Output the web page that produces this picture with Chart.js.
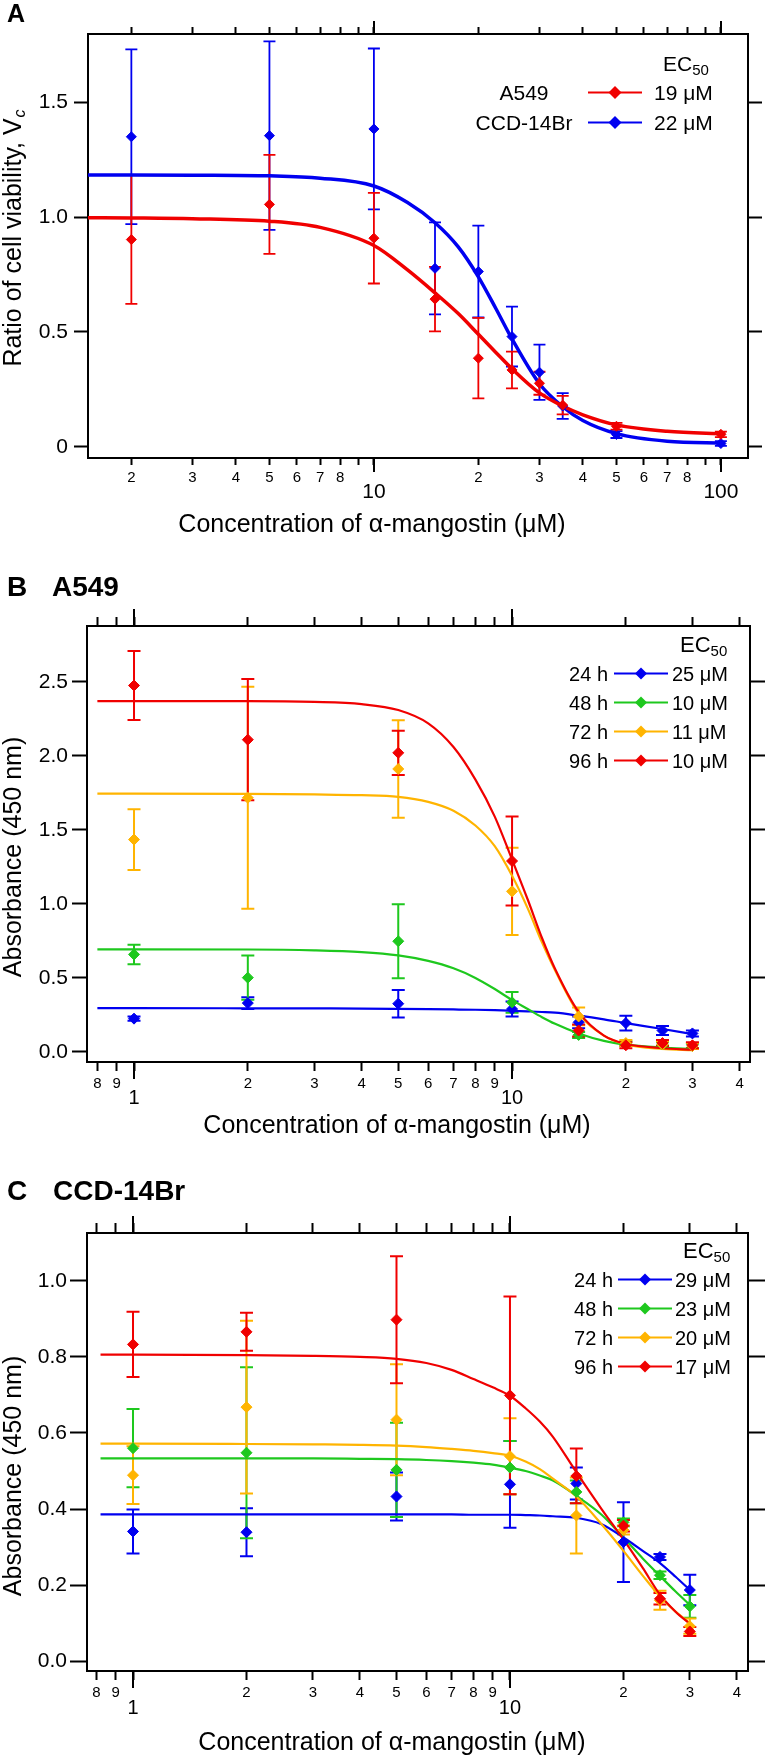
<!DOCTYPE html>
<html>
<head>
<meta charset="utf-8">
<script src="https://cdn.jsdelivr.net/npm/chart.js@4.4.0/dist/chart.umd.min.js"></script>
<style>
  html, body { margin: 0; padding: 0; background: #fff; }
  #page { position: relative; width: 768px; height: 1757px; background: #fff; }
  #page canvas { position: absolute; left: 0; }
</style>
</head>
<body>
<div id="page">
  <canvas id="chartA" width="768" height="545" style="top:0px"></canvas>
  <canvas id="chartB" width="768" height="605" style="top:545px"></canvas>
  <canvas id="chartC" width="768" height="607" style="top:1150px"></canvas>
</div>
<script>
const FONT = '"Liberation Sans", Arial, Helvetica, sans-serif';
const RED = '#f00000', BLUE = '#0000f0', GREEN = '#1ec81e', ORANGE = '#ffb400';

// ---------- panel A : viability ratio ----------
const concA = [2, 5, 10, 15, 20, 25, 30, 35, 50, 100];
const a549A = [0.902, 1.055, 0.908, 0.643, 0.386, 0.335, 0.277, 0.182, 0.090, 0.055];
const a549AErr = [0.28, 0.215, 0.197, 0.14, 0.175, 0.08, 0.05, 0.04, 0.015, 0.012];
const ccdA = [1.349, 1.354, 1.383, 0.777, 0.763, 0.480, 0.325, 0.178, 0.054, 0.015];
const ccdAErr = [0.38, 0.41, 0.35, 0.2, 0.2, 0.13, 0.12, 0.056, 0.015, 0.01];
const fitXA = [1.5, 2, 3, 5, 7, 10, 12.5, 15, 17.5, 20, 22.5, 25, 30, 35, 40, 50, 70, 103];
const fitA549A = [0.997, 0.996, 0.993, 0.982, 0.955, 0.876, 0.77, 0.67, 0.58, 0.49, 0.41, 0.34, 0.235, 0.178, 0.14, 0.096, 0.068, 0.057];
const fitCcdA = [1.183, 1.183, 1.182, 1.179, 1.169, 1.135, 1.063, 0.975, 0.87, 0.74, 0.6, 0.47, 0.275, 0.175, 0.115, 0.058, 0.025, 0.017];
const xTicksA = [2, 3, 4, 5, 6, 7, 8, 9, 10, 20, 30, 40, 50, 60, 70, 80, 90, 100];
const xLabelsA = ['2', '3', '4', '5', '6', '7', '8', '', '10', '2', '3', '4', '5', '6', '7', '8', '', '100'];
const yTicksA = [0, 0.5, 1.0, 1.5];
const yLabelsA = ['0', '0.5', '1.0', '1.5'];
const namesA = ['A549', 'CCD-14Br'];
const ec50A = ['19 μM', '22 μM'];

// ---------- panel B : A549 absorbance ----------
const concB = [1, 2, 5, 10, 15, 20, 25, 30];
const h24B = [0.225, 0.33, 0.326, 0.29, 0.2, 0.195, 0.145, 0.125];
const h24BErr = [0.015, 0.04, 0.093, 0.05, 0.04, 0.05, 0.03, 0.02];
const h48B = [0.659, 0.502, 0.748, 0.335, 0.115, 0.055, 0.05, 0.04];
const h48BErr = [0.066, 0.15, 0.25, 0.07, 0.02, 0.015, 0.015, 0.015];
const h72B = [1.435, 1.717, 1.912, 1.085, 0.24, 0.06, 0.05, 0.04];
const h72BErr = [0.205, 0.75, 0.33, 0.295, 0.06, 0.02, 0.02, 0.02];
const h96B = [2.476, 2.11, 2.021, 1.29, 0.145, 0.045, 0.06, 0.045];
const h96BErr = [0.233, 0.41, 0.15, 0.3, 0.04, 0.02, 0.02, 0.02];
const fitXB = [0.8, 1, 2, 3, 4, 5, 6, 7, 8, 9, 10, 11, 12, 13, 15, 17.5, 20, 25, 30];
const fit24B = [0.296, 0.296, 0.295, 0.294, 0.293, 0.291, 0.289, 0.287, 0.285, 0.282, 0.278, 0.274, 0.27, 0.265, 0.245, 0.22, 0.195, 0.155, 0.12];
const fit48B = [0.693, 0.693, 0.692, 0.686, 0.674, 0.652, 0.615, 0.565, 0.5, 0.425, 0.35, 0.29, 0.235, 0.19, 0.125, 0.075, 0.05, 0.03, 0.02];
const fit72B = [1.745, 1.745, 1.744, 1.74, 1.735, 1.724, 1.69, 1.63, 1.53, 1.39, 1.19, 0.97, 0.74, 0.55, 0.26, 0.11, 0.05, 0.02, 0.012];
const fit96B = [2.37, 2.37, 2.37, 2.365, 2.35, 2.31, 2.22, 2.06, 1.84, 1.59, 1.3, 1.03, 0.77, 0.56, 0.27, 0.11, 0.055, 0.025, 0.015];
const yTicksB = [0, 0.5, 1.0, 1.5, 2.0, 2.5];
const yLabelsB = ['0.0', '0.5', '1.0', '1.5', '2.0', '2.5'];
const ec50B = ['25 μM', '10 μM', '11 μM', '10 μM'];

// ---------- panel C : CCD-14Br absorbance ----------
const concC = [1, 2, 5, 10, 15, 20, 25, 30];
const h24C = [0.341, 0.339, 0.433, 0.465, 0.467, 0.313, 0.274, 0.187];
const h24CErr = [0.058, 0.063, 0.063, 0.114, 0.042, 0.105, 0.008, 0.04];
const h48C = [0.56, 0.548, 0.503, 0.509, 0.445, 0.365, 0.226, 0.144];
const h48CErr = [0.103, 0.225, 0.124, 0.07, 0.03, 0.01, 0.01, 0.03];
const h72C = [0.489, 0.668, 0.635, 0.539, 0.383, 0.345, 0.16, 0.092];
const h72CErr = [0.076, 0.227, 0.146, 0.1, 0.1, 0.012, 0.025, 0.02];
const h96C = [0.833, 0.866, 0.898, 0.699, 0.487, 0.356, 0.164, 0.078];
const h96CErr = [0.086, 0.05, 0.167, 0.26, 0.072, 0.015, 0.015, 0.012];
const fitXC = [0.82, 1, 2, 3, 4, 5, 6, 7, 8, 9, 10, 11, 12, 13, 15, 17.5, 20, 22.5, 25, 27.5, 30];
const fit24C = [0.386, 0.386, 0.386, 0.386, 0.386, 0.386, 0.386, 0.386, 0.385, 0.385, 0.385, 0.384, 0.383, 0.381, 0.377, 0.36, 0.325, 0.29, 0.258, 0.222, 0.187];
const fit48C = [0.533, 0.533, 0.533, 0.533, 0.532, 0.531, 0.529, 0.526, 0.522, 0.517, 0.509, 0.5, 0.488, 0.475, 0.435, 0.385, 0.325, 0.27, 0.224, 0.183, 0.148];
const fit72C = [0.572, 0.572, 0.571, 0.57, 0.569, 0.567, 0.563, 0.558, 0.553, 0.547, 0.54, 0.525, 0.505, 0.48, 0.433, 0.36, 0.29, 0.225, 0.17, 0.13, 0.1];
const fit96C = [0.806, 0.806, 0.805, 0.803, 0.8, 0.795, 0.784, 0.766, 0.742, 0.72, 0.698, 0.665, 0.63, 0.59, 0.497, 0.4, 0.32, 0.245, 0.175, 0.13, 0.098];
const yTicksC = [0, 0.2, 0.4, 0.6, 0.8, 1.0];
const yLabelsC = ['0.0', '0.2', '0.4', '0.6', '0.8', '1.0'];
const ec50C = ['29 μM', '23 μM', '20 μM', '17 μM'];

// shared by B and C
const xTicksBC = [0.8, 0.9, 1, 2, 3, 4, 5, 6, 7, 8, 9, 10, 20, 30, 40];
const xLabelsBC = ['8', '9', '1', '2', '3', '4', '5', '6', '7', '8', '9', '10', '2', '3', '4'];
const namesBC = ['24 h', '48 h', '72 h', '96 h'];
const xTitle = 'Concentration of α-mangostin (μM)';

function errorBars(P) {
  return {
    id: 'errorBars',
    beforeDatasetsDraw(chart) {
      const { ctx, scales: { x, y } } = chart;
      ctx.save();
      ctx.lineWidth = P.errWidth;
      P.series.slice().reverse().forEach(s => {
        ctx.strokeStyle = s.color;
        s.conc.forEach((c, i) => {
          const px = x.getPixelForValue(c);
          const hi = y.getPixelForValue(s.values[i] + s.errors[i]);
          const lo = y.getPixelForValue(s.values[i] - s.errors[i]);
          ctx.beginPath();
          ctx.moveTo(px, hi); ctx.lineTo(px, lo);
          ctx.moveTo(px - P.cap, hi); ctx.lineTo(px + P.cap, hi);
          ctx.moveTo(px - P.cap, lo); ctx.lineTo(px + P.cap, lo);
          ctx.stroke();
        });
      });
      ctx.restore();
    }
  };
}

function diamond(ctx, x, y, r, color) {
  ctx.fillStyle = color;
  ctx.beginPath();
  ctx.moveTo(x - r, y); ctx.lineTo(x, y - r); ctx.lineTo(x + r, y); ctx.lineTo(x, y + r);
  ctx.closePath();
  ctx.fill();
}

function decor(P) {
  return {
    id: 'decor',
    afterDraw(chart) {
      const { ctx, chartArea: a, scales } = chart;
      ctx.save();
      // decade ticks are longer than the others
      ctx.strokeStyle = '#000';
      ctx.lineWidth = 2;
      P.xMajors.forEach(v => {
        const px = Math.round(scales.x.getPixelForValue(v));
        ctx.beginPath();
        ctx.moveTo(px, a.bottom); ctx.lineTo(px, a.bottom + P.xMajorLen);
        ctx.moveTo(px, a.top); ctx.lineTo(px, a.top - P.xMajorLenTop);
        ctx.stroke();
      });

      ctx.fillStyle = '#000';
      ctx.textBaseline = 'alphabetic';
      ctx.textAlign = 'left';
      P.labels.forEach(l => {
        ctx.font = `bold ${l.size}px ${FONT}`;
        ctx.fillText(l.text, l.x, l.y);
      });

      ctx.font = `25px ${FONT}`;
      ctx.textAlign = 'center';
      ctx.fillText(xTitle, P.xTitleX, P.xTitleY);

      // rotated y title, optional italic subscript
      ctx.save();
      ctx.translate(P.yTitle.x, P.yTitle.y);
      ctx.rotate(-Math.PI / 2);
      ctx.textAlign = 'left';
      ctx.font = `25px ${FONT}`;
      const w1 = ctx.measureText(P.yTitle.text).width;
      let w2 = 0;
      if (P.yTitle.sub) {
        ctx.font = `italic 16px ${FONT}`;
        w2 = ctx.measureText(P.yTitle.sub).width + 1;
      }
      const x0 = -(w1 + w2) / 2;
      ctx.font = `25px ${FONT}`;
      ctx.fillText(P.yTitle.text, x0, 0);
      if (P.yTitle.sub) {
        ctx.font = `italic 16px ${FONT}`;
        ctx.fillText(P.yTitle.sub, x0 + w1 + 1, 4);
      }
      ctx.restore();

      // legend table
      const L = P.legend;
      ctx.fillStyle = '#000';
      ctx.textAlign = 'left';
      ctx.font = `${L.ecSize}px ${FONT}`;
      ctx.fillText('EC', L.ecX, L.ecY);
      const ecW = ctx.measureText('EC').width;
      ctx.font = `15px ${FONT}`;
      ctx.fillText('50', L.ecX + ecW, L.ecY + 4);
      L.names.forEach((name, i) => {
        const base = L.rows[i];
        const ly = base - 7.5;
        ctx.fillStyle = '#000';
        ctx.font = `${L.size}px ${FONT}`;
        ctx.textAlign = L.nameAlign;
        ctx.fillText(name, L.nameX, base);
        ctx.textAlign = 'left';
        ctx.fillText(L.values[i], L.valueX, base);
        ctx.strokeStyle = L.colors[i];
        ctx.lineWidth = 2;
        ctx.beginPath();
        ctx.moveTo(L.lineX1, ly); ctx.lineTo(L.lineX2, ly);
        ctx.stroke();
        diamond(ctx, L.markX, ly, L.markR, L.colors[i]);
      });
      ctx.restore();
    }
  };
}

function buildPanel(canvasId, P) {
  const datasets = [];
  P.series.forEach(s => datasets.push({
    label: s.name,
    xAxisID: 'x', yAxisID: 'y',
    data: s.conc.map((c, i) => ({ x: c, y: s.values[i] })),
    showLine: false,
    pointStyle: 'rectRot',
    pointRadius: P.markerR,
    pointBorderWidth: 1,
    pointBackgroundColor: s.color,
    pointBorderColor: s.color,
    borderColor: s.color,
  }));
  P.series.forEach(s => datasets.push({
    label: s.name + ' fit',
    xAxisID: 'x', yAxisID: 'y',
    data: s.fitX.map((c, i) => ({ x: c, y: s.fitY[i] })),
    borderColor: s.color,
    borderWidth: P.curveWidth,
    pointRadius: 0,
    fill: false,
    cubicInterpolationMode: 'monotone',
  }));

  const g = P.geo;
  const isMajor = v => P.xMajors.includes(v);
  const xTickObjs = () => P.xTicks.map(v => ({ value: v, major: isMajor(v) }));
  const yTickObjs = () => P.yTicks.map(v => ({ value: v }));
  const tickFont = ctx => (ctx.tick && isMajor(ctx.tick.value))
    ? { family: FONT, size: P.xMajorSize, lineHeight: P.xMajorLine + 'px' }
    : { family: FONT, size: 15, lineHeight: '18px' };
  const axisGrid = len => ({ display: true, drawOnChartArea: false, drawTicks: true, tickLength: len, tickWidth: 2, tickColor: '#000' });
  const border = { display: true, color: '#000', width: 2 };

  return new Chart(document.getElementById(canvasId), {
    type: 'line',
    data: { datasets },
    options: {
      responsive: false,
      animation: false,
      devicePixelRatio: 1,
      events: [],
      layout: { padding: 0 },
      plugins: { legend: { display: false }, tooltip: { enabled: false } },
      scales: {
        x: {
          type: 'logarithmic', position: 'bottom', min: P.xMin, max: P.xMax, bounds: 'data',
          afterBuildTicks: s => { s.ticks = xTickObjs(); },
          afterFit: s => { s.height = g.h - g.bottom; },
          grid: axisGrid(P.xMinorLen), border,
          ticks: { autoSkip: false, maxRotation: 0, minRotation: 0, padding: 4, color: '#000',
            font: tickFont, callback: (v, i) => P.xLabels[i] }
        },
        x2: {
          type: 'logarithmic', position: 'top', min: P.xMin, max: P.xMax, bounds: 'data',
          afterBuildTicks: s => { s.ticks = xTickObjs(); },
          afterFit: s => { s.height = g.top; },
          grid: axisGrid(P.xMinorLenTop), border,
          ticks: { display: false, autoSkip: false }
        },
        y: {
          type: 'linear', position: 'left', min: P.yMin, max: P.yMax, bounds: 'data',
          afterBuildTicks: s => { s.ticks = yTickObjs(); },
          afterFit: s => { s.width = g.left; },
          grid: axisGrid(P.yTickLen), border,
          ticks: { padding: P.yPad, color: '#000', font: { family: FONT, size: 21 },
            callback: (v, i) => P.yLabels[i] }
        },
        y2: {
          type: 'linear', position: 'right', min: P.yMin, max: P.yMax, bounds: 'data',
          afterBuildTicks: s => { s.ticks = yTickObjs(); },
          afterFit: s => { s.width = 768 - g.right; },
          grid: axisGrid(P.yTickLen), border,
          ticks: { display: false }
        }
      }
    },
    plugins: [errorBars(P), decor(P)]
  });
}

buildPanel('chartA', {
  geo: { left: 88, top: 34, right: 748, bottom: 458, h: 545 },
  xMin: 1.5, xMax: 119.7, yMin: -0.048, yMax: 1.796,
  xTicks: xTicksA, xLabels: xLabelsA, xMajors: [10, 100],
  yTicks: yTicksA, yLabels: yLabelsA,
  xMinorLen: 7, xMajorLen: 14, xMinorLenTop: 7, xMajorLenTop: 13,
  xMajorSize: 21, xMajorLine: 46, yTickLen: 14, yPad: 6,
  markerR: 5, curveWidth: 3.5, errWidth: 1.8, cap: 6,
  series: [
    { name: 'A549', color: RED, conc: concA, values: a549A, errors: a549AErr, fitX: fitXA, fitY: fitA549A },
    { name: 'CCD-14Br', color: BLUE, conc: concA, values: ccdA, errors: ccdAErr, fitX: fitXA, fitY: fitCcdA },
  ],
  labels: [{ text: 'A', x: 7, y: 22, size: 25 }],
  xTitleX: 372, xTitleY: 532,
  yTitle: { text: 'Ratio of cell viability, V', sub: 'c', x: 21, y: 238 },
  legend: { ecX: 663, ecY: 71, ecSize: 21, size: 21, names: namesA, values: ec50A, colors: [RED, BLUE],
    rows: [100, 130], nameAlign: 'center', nameX: 524, lineX1: 588, lineX2: 642, markX: 615, markR: 6.5, valueX: 654 }
});

buildPanel('chartB', {
  geo: { left: 87, top: 81, right: 750, bottom: 517, h: 605 },
  xMin: 0.751, xMax: 42.6, yMin: -0.068, yMax: 2.878,
  xTicks: xTicksBC, xLabels: xLabelsBC, xMajors: [1, 10],
  yTicks: yTicksB, yLabels: yLabelsB,
  xMinorLen: 9, xMajorLen: 17, xMinorLenTop: 9, xMajorLenTop: 17,
  xMajorSize: 20, xMajorLine: 46, yTickLen: 15, yPad: 4,
  markerR: 5.5, curveWidth: 2.2, errWidth: 2, cap: 6.5,
  series: [
    { name: '96 h', color: RED, conc: concB, values: h96B, errors: h96BErr, fitX: fitXB, fitY: fit96B },
    { name: '72 h', color: ORANGE, conc: concB, values: h72B, errors: h72BErr, fitX: fitXB, fitY: fit72B },
    { name: '48 h', color: GREEN, conc: concB, values: h48B, errors: h48BErr, fitX: fitXB, fitY: fit48B },
    { name: '24 h', color: BLUE, conc: concB, values: h24B, errors: h24BErr, fitX: fitXB, fitY: fit24B },
  ],
  labels: [{ text: 'B', x: 7, y: 51, size: 28 }, { text: 'A549', x: 52, y: 51, size: 28 }],
  xTitleX: 397, xTitleY: 588,
  yTitle: { text: 'Absorbance (450 nm)', x: 21, y: 312 },
  legend: { ecX: 680, ecY: 107, ecSize: 22, size: 20, names: namesBC, values: ec50B, colors: [BLUE, GREEN, ORANGE, RED],
    rows: [136, 165, 194, 223], nameAlign: 'right', nameX: 608, lineX1: 614, lineX2: 668, markX: 641, markR: 6, valueX: 672 }
});

buildPanel('chartC', {
  geo: { left: 87, top: 83, right: 748, bottom: 521, h: 607 },
  xMin: 0.755, xMax: 42.8, yMin: -0.026, yMax: 1.126,
  xTicks: xTicksBC, xLabels: xLabelsBC, xMajors: [1, 10],
  yTicks: yTicksC, yLabels: yLabelsC,
  xMinorLen: 9, xMajorLen: 17, xMinorLenTop: 10, xMajorLenTop: 17,
  xMajorSize: 20, xMajorLine: 48, yTickLen: 17, yPad: 3,
  markerR: 5.5, curveWidth: 2.2, errWidth: 2, cap: 6.5,
  series: [
    { name: '96 h', color: RED, conc: concC, values: h96C, errors: h96CErr, fitX: fitXC, fitY: fit96C },
    { name: '72 h', color: ORANGE, conc: concC, values: h72C, errors: h72CErr, fitX: fitXC, fitY: fit72C },
    { name: '48 h', color: GREEN, conc: concC, values: h48C, errors: h48CErr, fitX: fitXC, fitY: fit48C },
    { name: '24 h', color: BLUE, conc: concC, values: h24C, errors: h24CErr, fitX: fitXC, fitY: fit24C },
  ],
  labels: [{ text: 'C', x: 7, y: 50, size: 28 }, { text: 'CCD-14Br', x: 53, y: 50, size: 28 }],
  xTitleX: 392, xTitleY: 600,
  yTitle: { text: 'Absorbance (450 nm)', x: 21, y: 326 },
  legend: { ecX: 683, ecY: 108, ecSize: 22, size: 20, names: namesBC, values: ec50C, colors: [BLUE, GREEN, ORANGE, RED],
    rows: [137, 166, 195, 224], nameAlign: 'right', nameX: 613, lineX1: 618, lineX2: 672, markX: 645, markR: 6, valueX: 675 }
});
</script>
</body>
</html>
